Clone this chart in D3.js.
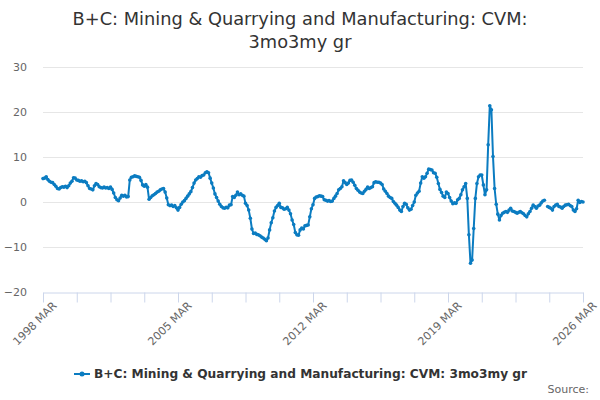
<!DOCTYPE html>
<html lang="en">
<head>
  <meta charset="UTF-8" />
  <title>B+C: Mining & Quarrying and Manufacturing: CVM: 3mo3my gr</title>
  <script src="https://d3js.org/d3.v7.min.js"></script>
  <style>
    body {
      margin: 0;
      background: #ffffff;
      font-family: 'DejaVu Sans', sans-serif;
    }

    svg {
      display: block;
      font-family: 'DejaVu Sans', sans-serif;
    }

    .title {
      font-size: 17.8px;
      fill: #333333;
    }

    .grid line {
      stroke: #e6e6e6;
    }

    .axis text {
      font-family: 'DejaVu Sans', sans-serif;
      font-size: 11px;
      fill: #666666;
    }

    .series {
      fill: none;
      stroke: #0b7cc1;
      stroke-width: 2;
    }
  </style>
</head>
<body>
  <svg id="chart" width="600" height="400"></svg>

  <script>
    // 3mo3my growth, monthly from 1998 MAR
    const vals1998 = [5.2, 5.3, 5.6, 5.0, 4.6, 4.4, 4.3, 3.9, 3.5, 3.0, 2.9, 3.2,
      3.4, 3.3, 3.5, 3.2, 3.6, 4.2, 4.6, 5.4, 5.3, 4.9, 4.8, 4.6,
      4.7, 4.5, 4.6, 4.3, 3.6, 3.0, 2.9, 2.7, 3.6, 4.1, 3.9, 3.4,
      3.2, 3.1, 3.3, 3.1, 3.2, 3.0, 3.3, 2.8, 2.0, 1.0, 0.5, 0.3,
      0.9, 1.5, 1.3, 1.5, 1.1, 1.2, 4.9, 5.5, 5.6, 5.8, 5.7, 5.6,
      5.5, 4.8, 3.8, 3.5, 3.9, 3.3, 0.6, 1.0, 1.4, 1.6, 1.9, 2.2,
      2.4, 2.7, 2.9, 3.0, 2.2, 0.9, -0.6, -0.8, -0.7, -1.0, -0.8, -1.3];
    const vals2005 = [-1.8, -1.2, -0.5, 0.0, 0.3, 0.8, 1.3, 1.8, 2.3, 3.2, 4.2, 4.9,
      5.2, 5.6, 5.5, 5.9, 6.0, 6.5, 6.7, 6.5, 5.3, 4.2, 3.1, 1.8,
      1.0, 0.2, -0.5, -1.0, -1.3, -1.4, -1.2, -1.3, -0.7, -0.6, 1.2, 1.0,
      1.5, 2.2, 1.6, 1.8, 1.5, 1.3, -0.3, -0.8, -1.8, -3.6, -6.0, -7.0,
      -6.9, -7.2, -7.3, -7.5, -7.8, -8.0, -8.3, -8.6, -8.0, -6.2, -4.6, -3.5,
      -2.0, -1.2, -0.8, -0.3, -1.2, -1.3, -1.6, -1.5, -1.2, -1.8, -2.6, -4.0,
      -5.0, -6.8, -7.3, -7.4, -6.2, -5.8, -6.0, -5.3, -5.2, -5.1, -3.3, -1.5];
    const vals2012 = [-0.6, 0.8, 1.1, 1.2, 1.4, 1.3, 1.2, 0.5, 0.4, 0.2, 0.3, 0.1,
      0.2, 0.8, 1.3, 1.9, 2.7, 3.0, 3.4, 4.7, 4.3, 3.9, 4.2, 4.8,
      4.9, 4.4, 3.7, 3.0, 2.6, 2.2, 2.0, 1.9, 2.4, 2.8, 3.3, 3.0,
      3.2, 3.4, 4.3, 4.5, 4.4, 4.4, 4.2, 3.9, 2.9, 2.4, 1.9, 1.3,
      1.0, 0.8, 0.1, -0.3, -0.7, -1.2, -1.8, -2.1, -1.0, -0.3, -0.5, -1.3,
      -1.8, -1.6, -0.8, 0.0, 1.5, 2.0, 2.4, 4.2, 5.6, 5.3, 5.6, 6.4,
      7.3, 7.2, 7.1, 6.5, 6.4, 5.5, 4.1, 2.8, 2.1, 1.3, 1.0, 2.2];
    const vals2019 = [1.9, 1.0, 0.2, -0.4, -0.2, -0.3, 0.5, 0.8, 1.6, 2.7, 3.4, 4.1,
      0.8, -7.3, -13.6, -12.9, -5.9, 0.8, 4.1, 5.6, 6.0, 6.0, 3.8, 1.6,
      2.7, 12.7, 21.4, 20.5, 10.1, 3.0, -0.5, -2.7, -4.0, -3.0, -2.5, -2.3,
      -2.1, -2.3, -1.8, -1.4, -2.0, -2.1, -2.3, -2.5, -2.3, -2.1, -2.4, -2.6,
      -3.0, -3.3, -2.6, -2.1, -1.4, -0.7, -1.0, -1.4, -0.9, -0.7, -0.2, 0.2,
      0.4, null, -1.0, -1.2, -1.4, -1.8, -1.0, -0.7, -0.5, -1.0, -1.1, -1.4,
      -1.0, -0.7, -0.6, -0.5, -0.8, -1.0, -1.8, -2.1, -1.5, 0.4, -0.1, 0.1,
      0.0];
    const values = [...vals1998, ...vals2005, ...vals2012, ...vals2019];

    const monthNames = ["JAN", "FEB", "MAR", "APR", "MAY", "JUN",
                        "JUL", "AUG", "SEP", "OCT", "NOV", "DEC"];
    const categories = values.map((v, i) => {
      const m = 2 + i;
      return (1998 + Math.floor(m / 12)) + " " + monthNames[m % 12];
    });

    const yTicks = [-20, -10, 0, 10, 20, 30];
    const tickEvery = 21;
    const labelEvery = 84;
    const seriesName = "B+C: Mining & Quarrying and Manufacturing: CVM: 3mo3my gr";

    const svg = d3.select("#chart");
    const margin = {left: 43, right: 17, top: 67, bottom: 108};
    const width = 600, height = 400;

    const x = d3.scaleLinear()
      .domain([0, categories.length - 1])
      .range([margin.left, width - margin.right]);

    const y = d3.scaleLinear()
      .domain([-20, 30])
      .range([height - margin.bottom, margin.top]);

    // title
    svg.append("text")
      .attr("class", "title")
      .attr("x", width / 2)
      .attr("y", 25)
      .attr("text-anchor", "middle")
      .text("B+C: Mining & Quarrying and Manufacturing: CVM:");
    svg.append("text")
      .attr("class", "title")
      .attr("x", width / 2)
      .attr("y", 48)
      .attr("text-anchor", "middle")
      .text("3mo3my gr");

    // gridlines
    svg.append("g")
        .attr("class", "grid")
      .selectAll("line")
      .data(yTicks.filter(d => d !== -20))
      .join("line")
        .attr("x1", margin.left)
        .attr("x2", width - margin.right)
        .attr("y1", d => y(d) + 0.5)
        .attr("y2", d => y(d) + 0.5);

    // y axis labels
    const yAxis = svg.append("g")
      .attr("class", "axis")
      .attr("transform", `translate(${margin.left},0)`)
      .call(d3.axisLeft(y).tickValues(yTicks).tickSize(0).tickPadding(16));
    yAxis.select(".domain").remove();

    // x axis
    const tickIdx = d3.range(0, categories.length, tickEvery);
    const xAxis = svg.append("g")
      .attr("class", "axis")
      .attr("transform", `translate(0,${y(-20) + 0.5})`)
      .call(d3.axisBottom(x)
        .tickValues(tickIdx)
        .tickSize(10)
        .tickSizeOuter(0)
        .tickFormat(i => i % labelEvery === 0 ? categories[i] : ""));
    xAxis.attr("font-size", null).attr("font-family", null);
    xAxis.select(".domain").attr("stroke", "#ccd6eb");
    xAxis.selectAll(".tick line").attr("stroke", "#ccd6eb");
    xAxis.selectAll(".tick text")
      .attr("text-anchor", "end")
      .attr("transform", "translate(4,4) rotate(-45)")
      .attr("dy", "0.35em")
      .attr("y", 10);
    yAxis.attr("font-size", null).attr("font-family", null);

    // series
    const line = d3.line()
      .defined(d => d != null)
      .x((d, i) => x(i))
      .y(d => y(d));

    svg.append("path")
      .datum(values)
      .attr("class", "series")
      .attr("stroke-linejoin", "round")
      .attr("d", line);

    svg.append("g")
      .selectAll("circle")
      .data(values.map((v, i) => ({v, i})).filter(d => d.v != null))
      .join("circle")
        .attr("cx", d => x(d.i))
        .attr("cy", d => y(d.v))
        .attr("r", 1.8)
        .attr("fill", "#0b7cc1");

    // legend
    const legend = svg.append("g").attr("transform", "translate(0,374)");
    legend.append("line")
      .attr("x1", 74).attr("x2", 90)
      .attr("stroke", "#0b7cc1").attr("stroke-width", 2);
    legend.append("circle")
      .attr("cx", 82).attr("r", 2.5).attr("fill", "#0b7cc1");
    legend.append("text")
      .attr("x", 94)
      .attr("dy", "0.35em")
      .attr("font-size", 12.2)
      .attr("font-weight", "bold")
      .attr("fill", "#333333")
      .text(seriesName);

    svg.append("text")
      .attr("x", 589)
      .attr("y", 393)
      .attr("text-anchor", "end")
      .attr("font-size", 11)
      .attr("fill", "#666666")
      .text("Source:");
  </script>
</body>
</html>
